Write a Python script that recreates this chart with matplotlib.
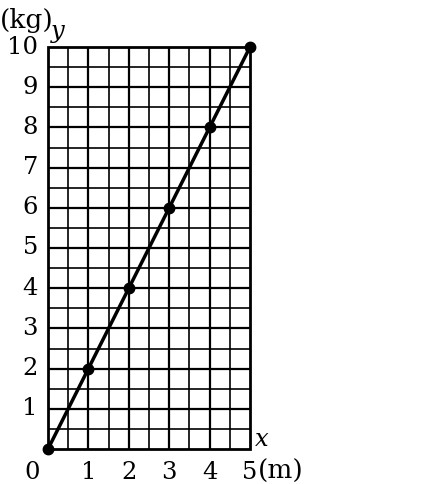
import matplotlib

matplotlib.use("Agg")
import matplotlib.pyplot as plt
import numpy as np

# data
length_m = [0, 1, 2, 3, 4, 5]
weight_kg = [0, 2, 4, 6, 8, 10]
x_ticks = [1, 2, 3, 4, 5]
y_ticks = [1, 2, 3, 4, 5, 6, 7, 8, 9, 10]

plt.rcParams["font.family"] = ["DejaVu Serif"]
plt.rcParams["mathtext.fontset"] = "dejavuserif"
FS = 17.5
FS_UNIT = 19
X_BASE = -0.75  # baseline of the x-axis labels, in data units

fig = plt.figure(figsize=(4.34, 4.84), dpi=100)
ax = fig.add_axes([48 / 434, 35 / 484, 202 / 434, 402 / 484])
ax.set_xlim(0, 5)
ax.set_ylim(0, 10)
ax.set_axis_off()

# grid: half-unit lines, integer lines a bit heavier
for v in np.arange(0.5, 5, 0.5):
    ax.axvline(v, color="black", lw=1.6 if v % 1 == 0 else 1.2, zorder=1)
for v in np.arange(0.5, 10, 0.5):
    ax.axhline(v, color="black", lw=1.6 if v % 1 == 0 else 1.2, zorder=1)
ax.plot([0, 5, 5, 0, 0], [0, 0, 10, 10, 0], color="black", lw=2.0,
        clip_on=False, zorder=2, solid_joinstyle="miter")

ax.plot(length_m, weight_kg, color="black", lw=2.5, marker="o",
        markersize=7.5, clip_on=False, zorder=3)

for t in y_ticks:
    ax.text(-0.25, t, str(t), ha="right", va="center", fontsize=FS,
            clip_on=False)
for t in x_ticks:
    ax.text(t, X_BASE, str(t), ha="center", va="baseline", fontsize=FS,
            clip_on=False)
ax.text(-0.4, X_BASE, "0", ha="center", va="baseline", fontsize=FS,
        clip_on=False)
ax.text(5.2, X_BASE, "(m)", ha="left", va="baseline", fontsize=FS_UNIT,
        clip_on=False)
ax.text(5.1, -0.05, "$x$", ha="left", va="bottom", fontsize=FS, clip_on=False)
ax.text(0.05, 10.05, "$y$", ha="left", va="bottom", fontsize=FS, clip_on=False)
ax.text(-1.2, 10.35, "(kg)", ha="left", va="bottom", fontsize=FS_UNIT,
        clip_on=False)

fig.savefig("out.png", dpi=100)
